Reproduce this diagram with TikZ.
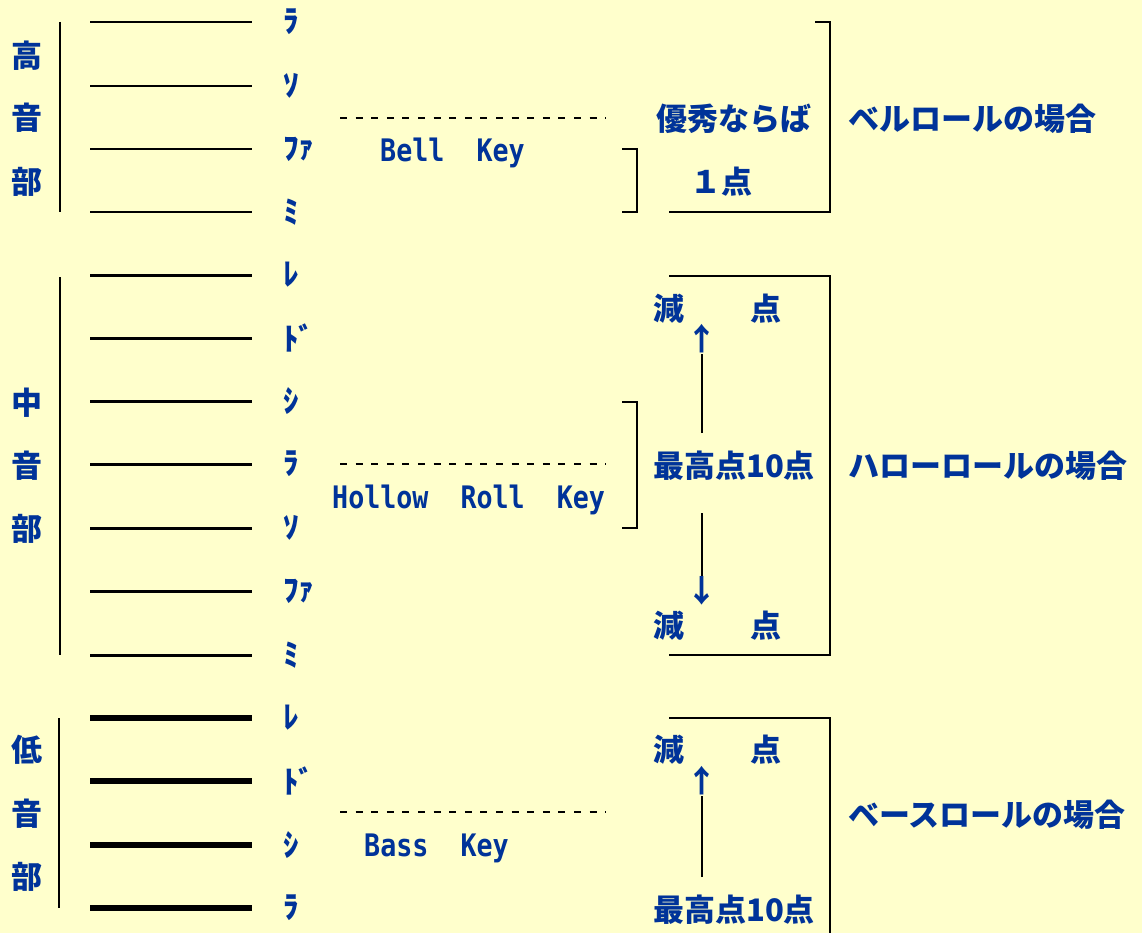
\documentclass[tikz,border=0pt]{standalone}
\usepackage{fontspec}
\usepackage{xcolor}
\usepackage{tikz}
\usetikzlibrary{calc}

\newfontfamily\jpfont{Noto Sans CJK JP}
\newfontfamily\keyfont{DejaVu Sans Mono}[FakeStretch=0.86]
\definecolor{inkblue}{HTML}{003399}
\definecolor{paper}{HTML}{FFFFCC}

\tikzset{
	lbl/.style={text=inkblue, inner sep=0pt, font=\jpfont\bfseries\fontsize{31}{31}\selectfont},
	note/.style={lbl, anchor=west},
	keylbl/.style={text=inkblue, inner sep=0pt, anchor=west, font=\keyfont\bfseries\fontsize{31}{31}\selectfont},
	keyline/.style={line width=1.4pt, dash pattern=on 7pt off 8.6pt},
	bracket/.style={line width=1.8pt},
	arrowline/.style={line width=1.8pt},
}

\begin{document}
\begin{tikzpicture}[x=1pt, y=-1pt]
	\fill[paper] (0,0) rectangle (1142,933);
	\useasboundingbox (0,0) rectangle (1142,933);

	\def\xL{90};
	\def\xR{252};
	\def\xN{283};

	% staff lines
	\begin{scope}[line width=1.8pt]
		\foreach \y in {22,86,149,212} \draw (\xL,\y) -- (\xR,\y);
	\end{scope}
	\begin{scope}[line width=3pt]
		\foreach \y in {275,338,401,464,528,591,655} \draw (\xL,\y) -- (\xR,\y);
	\end{scope}
	\begin{scope}[line width=5.5pt]
		\foreach \y in {718,781,845,908} \draw (\xL,\y) -- (\xR,\y);
	\end{scope}

	% register bars and names
	\begin{scope}[line width=1.8pt]
		\draw (60,22) -- (60,212);
		\draw (60,277) -- (60,655);
		\draw (59,718) -- (59,908);
	\end{scope}
	\foreach \y/\t [count=\i] in {56/高,118/音,182/部} \node[lbl] (hireg\i) at (27,\y) {\t};
	\foreach \y/\t [count=\i] in {403/中,466/音,529/部} \node[lbl] (mireg\i) at (27,\y) {\t};
	\foreach \y/\t [count=\i] in {750/低,814/音,877/部} \node[lbl] (loreg\i) at (27,\y) {\t};

	% note names
	\foreach \y/\t [count=\i] in {22/ﾗ,86/ｿ,149/ﾌｧ,212/ﾐ} \node[note] (hinote\i) at (\xN,\y) {\t};
	\foreach \y/\t [count=\i] in {275/ﾚ,338/ﾄﾞ,401/ｼ,464/ﾗ,528/ｿ,591/ﾌｧ,655/ﾐ} \node[note] (minote\i) at (\xN,\y) {\t};
	\foreach \y/\t [count=\i] in {718/ﾚ,781/ﾄﾞ,845/ｼ,908/ﾗ} \node[note] (lonote\i) at (\xN,\y) {\t};

	% keys
	\begin{scope}
		\draw[keyline] (340,118) -- (606,118);
		\draw[keyline] (340,464) -- (606,464);
		\draw[keyline] (340,812) -- (606,812);
		\node[keylbl] (bellkey) at (380,153) {Bell~~Key};
		\node[keylbl] (hollowkey) at (332,500) {Hollow~~Roll~~Key};
		\node[keylbl] (basskey) at (364,848) {Bass~~Key};
	\end{scope}

	% brackets
	\begin{scope}[bracket]
		\draw (622,149) -- (637,149) -- (637,212) -- (622,212);
		\draw (622,402) -- (637,402) -- (637,528) -- (622,528);
		\draw (815,22) -- (830,22) -- (830,212) -- (669,212);
		\draw (669,276) -- (830,276) -- (830,655) -- (669,655);
		\draw (669,718) -- (830,718) -- (830,933);
	\end{scope}

	% bell roll
	\node[lbl] (good) at (734,119) {優秀ならば};
	\node[lbl] (onept) at (721,182) {１点};
	\node[lbl, anchor=west] (bellcase) at (848,119) {ベルロールの場合};

	% hollow roll
	\node[lbl] (top1) at (734,466) {最高点10点};
	\node[lbl] (minus1) at (669,309) {減};
	\node[lbl] (point1) at (766,309) {点};
	\node[lbl] (up1) at (702,339) {↑};
	\node[lbl] (minus2) at (669,626) {減};
	\node[lbl] (point2) at (766,626) {点};
	\node[lbl] (dn1) at (702,591) {↓};
	\node[lbl, anchor=west] (hollowcase) at (848,466) {ハローロールの場合};
	\draw[arrowline] ($(top1.center -| up1)+(0,-33)$) -- (up1.south);
	\draw[arrowline] ($(top1.center -| dn1)+(0,47)$) -- (dn1.north);

	% bass roll
	\node[lbl] (top2) at (734,910) {最高点10点};
	\node[lbl] (minus3) at (669,750) {減};
	\node[lbl] (point3) at (766,750) {点};
	\node[lbl] (up2) at (702,781) {↑};
	\node[lbl, anchor=west] (basscase) at (848,815) {ベースロールの場合};
	\draw[arrowline] ($(top2.center -| up2)+(0,-33)$) -- (up2.south);
\end{tikzpicture}
\end{document}
